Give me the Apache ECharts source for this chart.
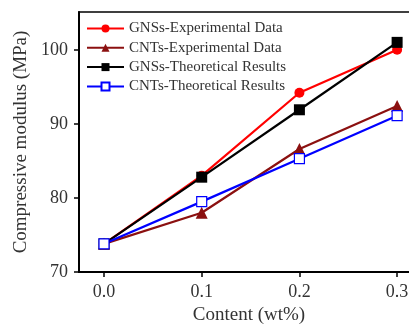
<!DOCTYPE html>
<html>
<head>
<meta charset="utf-8">
<script src="https://cdn.jsdelivr.net/npm/echarts@6/dist/echarts.min.js"></script>
<style>
html, body { margin: 0; padding: 0; background: #fff; }
#main { width: 409px; height: 331px; }
</style>
</head>
<body>
<div id="main"></div>
<script>
// data
var content = [0.0, 0.1, 0.2, 0.3];
var gnsExp = [73.8, 83.0, 94.2, 100.0];
var cntExp = [73.8, 78.0, 86.6, 92.4];
var gnsTheory = [73.8, 82.8, 91.9, 101.0];
var cntTheory = [73.8, 79.5, 85.3, 91.1];
var xTicks = [0, 0.1, 0.2, 0.3];
var yTicks = [70, 80, 90, 100];

function pairs(xs, ys) {
	var out = [];
	for (var i = 0; i < xs.length; i++) {
		out.push([xs[i], ys[i]]);
	}
	return out;
}

var myChart = echarts.init(document.getElementById('main'));
var font = 'Liberation Serif';

function line(name, color, symbol, size, ys, hollow) {
	return {
		name: name,
		type: 'line',
		data: pairs(content, ys),
		symbol: symbol,
		symbolSize: size,
		lineStyle: { color: color, width: 2.2 },
		itemStyle: { color: hollow ? '#fff' : color, borderColor: color, borderWidth: hollow ? 1.2 : 0 },
		emphasis: { disabled: true },
		z: 3
	};
}

var option = {
	animation: false,
	textStyle: { fontFamily: font },
	grid: {
		left: 79, top: 12, bottom: 59, right: -10,
		outerBoundsMode: 'none',
		containLabel: false,
		show: true, borderColor: '#000', borderWidth: 1.5
	},
	legend: {
		left: 81, top: 16,
		orient: 'vertical',
		itemWidth: 37, itemHeight: 10, itemGap: 4.3,
		textStyle: { fontFamily: font, fontSize: 15, color: '#333' },
		data: ['GNSs-Experimental Data', 'CNTs-Experimental Data', 'GNSs-Theoretical Results', 'CNTs-Theoretical Results']
	},
	xAxis: {
		type: 'value',
		min: -0.0256, max: 0.3224,
		name: 'Content (wt%)',
		nameLocation: 'middle',
		nameGap: 33,
		nameTextStyle: { fontFamily: font, fontSize: 19, color: '#333' },
		axisLine: { lineStyle: { color: '#000', width: 2 } },
		axisTick: { customValues: xTicks, length: 5, lineStyle: { color: '#000', width: 1.5 } },
		axisLabel: {
			customValues: xTicks, fontFamily: font, fontSize: 18, color: '#333', margin: 11,
			formatter: function (v) { return v.toFixed(1); }
		},
		splitLine: { show: false }
	},
	yAxis: {
		type: 'value',
		min: 70, max: 105.1,
		name: 'Compressive modulus (MPa)',
		nameLocation: 'middle',
		nameGap: 46,
		nameTextStyle: { fontFamily: font, fontSize: 19, color: '#333' },
		axisLine: { show: true, onZero: false, lineStyle: { color: '#000', width: 2 } },
		axisTick: { customValues: yTicks, length: 5, lineStyle: { color: '#000', width: 1.5 } },
		axisLabel: { customValues: yTicks, fontFamily: font, fontSize: 18, color: '#333', margin: 11 },
		splitLine: { show: false }
	},
	series: [
		line('GNSs-Experimental Data', '#ff0000', 'circle', 10, gnsExp, false),
		line('CNTs-Experimental Data', '#8b1010', 'triangle', 12, cntExp, false),
		line('GNSs-Theoretical Results', '#000000', 'rect', 11, gnsTheory, false),
		line('CNTs-Theoretical Results', '#0000ff', 'rect', 10, cntTheory, true)
	]
};

myChart.setOption(option);
</script>
</body>
</html>
